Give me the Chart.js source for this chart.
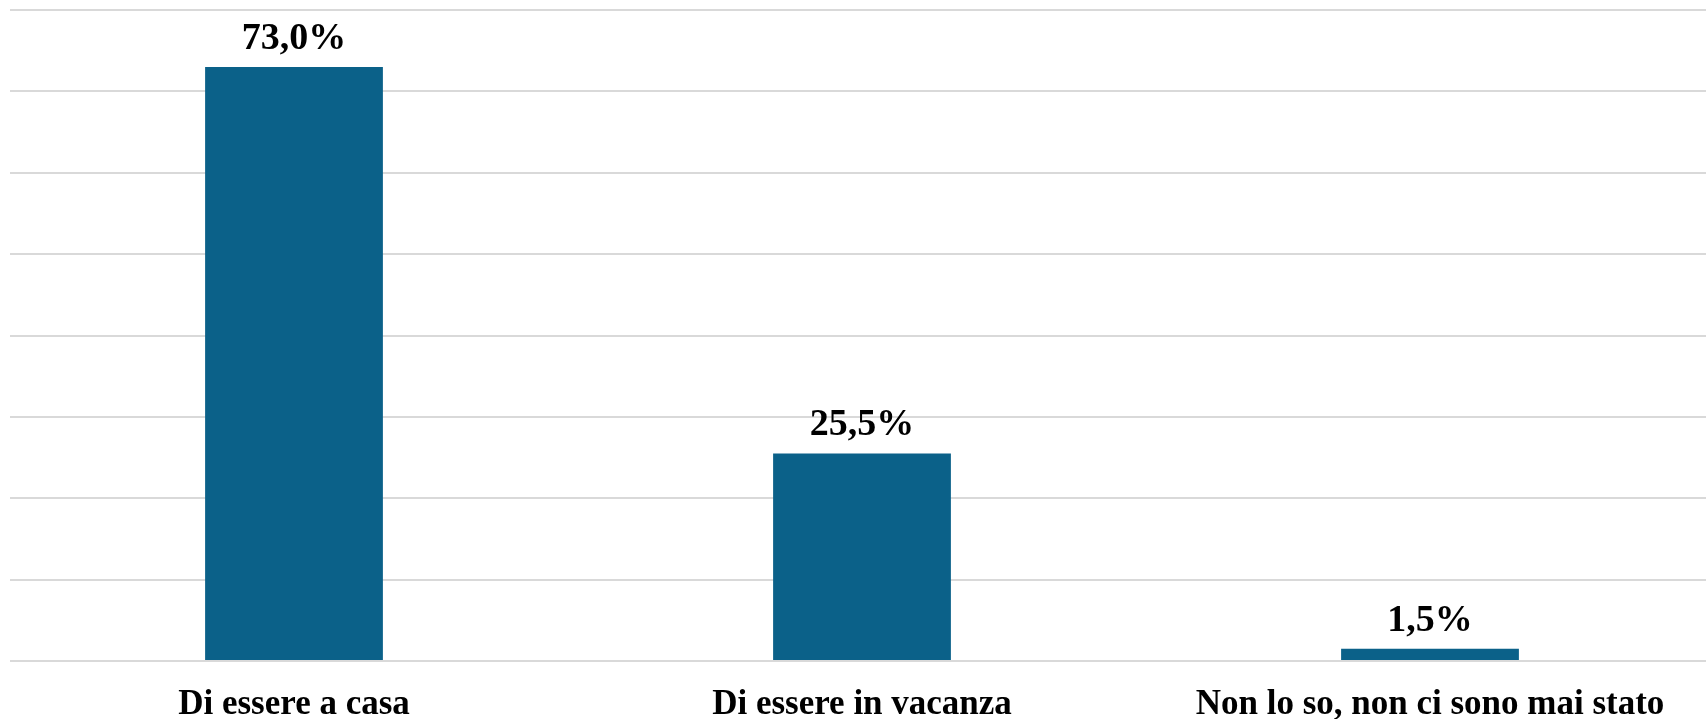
<!DOCTYPE html>
<html>
<head>
<meta charset="utf-8">
<script src="https://cdn.jsdelivr.net/npm/chart.js@4/dist/chart.umd.min.js"></script>
<style>
    html, body { margin: 0; padding: 0; background: #fff; overflow: hidden; }
    #wrap { width: 1716px; height: 741px; position: relative; }
</style>
</head>
<body>
<div id="wrap"><canvas id="myChart"></canvas></div>
<script>
// chart data
const categories = ["Di essere a casa", "Di essere in vacanza", "Non lo so, non ci sono mai stato"];
const values = [73.0, 25.5, 1.5];
const yMax = 80;
const yStep = 10;

const barColor = "#0b6189";
const labelFont = "bold 38px 'Liberation Serif', 'Times New Roman', serif";

// draws the percentage over each bar
const valueLabels = {
    id: "valueLabels",
    afterDatasetsDraw(chart) {
        const ctx = chart.ctx;
        const meta = chart.getDatasetMeta(0);
        ctx.save();
        ctx.font = labelFont;
        ctx.fillStyle = "#000";
        ctx.textAlign = "center";
        ctx.textBaseline = "alphabetic";
        meta.data.forEach((bar, i) => {
            const txt = values[i].toFixed(1).replace(".", ",") + "%";
            ctx.fillText(txt, bar.x, bar.y - 18);
        });
        ctx.restore();
    }
};

document.addEventListener("DOMContentLoaded", function () {
    const ctx = document.getElementById("myChart").getContext("2d");

    new Chart(ctx, {
        type: "bar",
        data: {
            labels: categories,
            datasets: [{
                data: values,
                backgroundColor: barColor,
                categoryPercentage: 1,
                barPercentage: 0.313
            }]
        },
        options: {
            responsive: true,
            maintainAspectRatio: false,
            animation: false,
            layout: { padding: { left: 10, top: 10, right: 2, bottom: 0 } },
            plugins: {
                legend: { display: false },
                tooltip: { enabled: false }
            },
            scales: {
                x: {
                    grid: { display: false },
                    border: { display: false },
                    ticks: {
                        color: "#000",
                        padding: 15,
                        maxRotation: 0,
                        font: { family: "'Liberation Serif', 'Times New Roman', serif", size: 35, weight: "bold" }
                    }
                },
                y: {
                    min: 0,
                    max: yMax,
                    ticks: { display: false, stepSize: yStep },
                    border: { display: false },
                    grid: { color: "#d9d9d9", lineWidth: 2, drawTicks: false }
                }
            }
        },
        plugins: [valueLabels]
    });
});
</script>
</body>
</html>
